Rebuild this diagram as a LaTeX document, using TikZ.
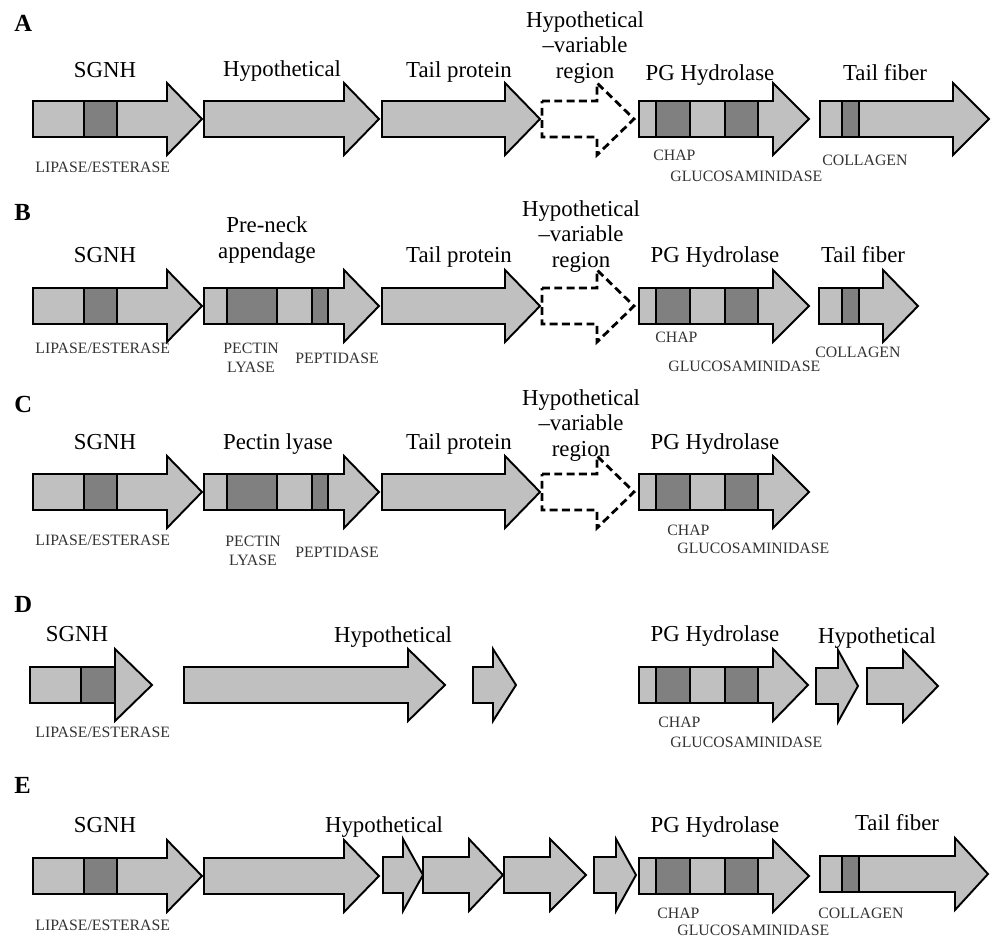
\documentclass[tikz,border=0pt]{standalone}
\usepackage{fontspec}
\setmainfont{Liberation Serif}
\usepackage{tikz}
\definecolor{genelight}{RGB}{192,192,192}
\definecolor{genedark}{RGB}{128,128,128}
\newcommand{\genebh}{18}
\newcommand{\genehh}{36}
% gene arrow: [style]{start}{head start}{tip}{centre y}
\newcommand{\gene}[5][genebox]{%
  \draw[#1] (#2,#5-\genebh) -- (#3,#5-\genebh) -- (#3,#5-\genehh) -- (#4,#5)
    -- (#3,#5+\genehh) -- (#3,#5+\genebh) -- (#2,#5+\genebh) -- cycle;}
% domain box: {from}{to}{centre y}
\newcommand{\domain}[3]{%
  \draw[domainbox] (#1,#3-\genebh) rectangle (#2,#3+\genebh);}

\begin{document}
\begin{tikzpicture}[x=0.02cm, y=-0.02cm,
    genebox/.style={draw=black, fill=genelight, line width=1.1pt, line join=miter},
    dashedgene/.style={draw=black, fill=white, line width=1.6pt, dash pattern=on 4.5pt off 2.5pt},
    domainbox/.style={draw=black, fill=genedark, line width=1.1pt},
    genename/.style={anchor=base, font=\fontsize{13}{14.5}\selectfont, inner sep=0pt, align=center},
    domname/.style={anchor=base west, font=\fontsize{9}{10.5}\selectfont, text=black!80, inner sep=0pt, align=center},
    panel/.style={anchor=base west, font=\fontsize{14}{16}\selectfont\bfseries, inner sep=0pt}]
    \useasboundingbox (0,0) rectangle (991,937);

    % Row A
    \node[panel] (panA) at (14,31) {A};
    \gene{33}{167}{202}{119} \domain{84}{117}{119}
    \gene{204}{344}{379}{119}
    \gene{382}{505}{540}{119}
    \gene[dashedgene]{542}{597}{634}{119}
    \gene{639}{773}{809}{119} \domain{656}{690}{119} \domain{725}{758}{119}
    \gene{820}{953}{989}{119} \domain{842}{859}{119}
    \node[genename] (sgnhA) at (105,77) {SGNH};
    \node[genename] (hypA) at (282,76) {Hypothetical};
    \node[genename] (tailA) at (459,77) {Tail protein};
    \node[genename] (varA) at (585,78) {Hypothetical\\--variable\\region};
    \node[genename] (pgA) at (710,80) {PG Hydrolase};
    \node[genename] (fibA) at (885,80) {Tail fiber};
    \node[domname] (lipA) at (35,172) {LIPASE/ESTERASE};
    \node[domname] (chapA) at (653,160) {CHAP};
    \node[domname] (glcA) at (670,181) {GLUCOSAMINIDASE};
    \node[domname] (colA) at (822,165) {COLLAGEN};

    % Row B
    \node[panel] (panB) at (14,220) {B};
    \gene{33}{167}{202}{306} \domain{84}{117}{306}
    \gene{204}{344}{379}{306} \domain{227}{277}{306} \domain{312}{328}{306}
    \gene{382}{505}{540}{306}
    \gene[dashedgene]{542}{597}{634}{306}
    \gene{639}{773}{809}{306} \domain{656}{690}{306} \domain{725}{758}{306}
    \gene{819}{883}{918}{306} \domain{842}{859}{306}
    \node[genename] (sgnhB) at (105,262) {SGNH};
    \node[genename] (neckB) at (267,258) {Pre-neck\\appendage};
    \node[genename] (tailB) at (459,262) {Tail protein};
    \node[genename] (varB) at (581,267) {Hypothetical\\--variable\\region};
    \node[genename] (pgB) at (715,262) {PG Hydrolase};
    \node[genename] (fibB) at (863,262) {Tail fiber};
    \node[domname] (lipB) at (35,353) {LIPASE/ESTERASE};
    \node[domname] (pecB) at (223,372) {PECTIN\\LYASE};
    \node[domname] (pepB) at (295,363) {PEPTIDASE};
    \node[domname] (chapB) at (655,342) {CHAP};
    \node[domname] (glcB) at (668,371) {GLUCOSAMINIDASE};
    \node[domname] (colB) at (815,357) {COLLAGEN};

    % Row C
    \node[panel] (panC) at (14,412) {C};
    \gene{33}{167}{202}{492} \domain{84}{117}{492}
    \gene{204}{344}{379}{492} \domain{227}{277}{492} \domain{312}{328}{492}
    \gene{382}{505}{540}{492}
    \gene[dashedgene]{542}{597}{634}{492}
    \gene{639}{773}{809}{492} \domain{656}{690}{492} \domain{725}{758}{492}
    \node[genename] (sgnhC) at (105,449) {SGNH};
    \node[genename] (pecC) at (278,449) {Pectin lyase};
    \node[genename] (tailC) at (459,449) {Tail protein};
    \node[genename] (varC) at (581,456) {Hypothetical\\--variable\\region};
    \node[genename] (pgC) at (715,449) {PG Hydrolase};
    \node[domname] (lipC) at (35,545) {LIPASE/ESTERASE};
    \node[domname] (pecdC) at (225,565) {PECTIN\\LYASE};
    \node[domname] (pepC) at (295,557) {PEPTIDASE};
    \node[domname] (chapC) at (667,535) {CHAP};
    \node[domname] (glcC) at (677,553) {GLUCOSAMINIDASE};

    % Row D
    \node[panel] (panD) at (14,612) {D};
    \gene{30}{115}{152}{685} \domain{81}{115}{685}
    \gene{184}{408}{445}{685}
    \gene{473}{493}{516}{685}
    \gene{639}{773}{808}{685} \domain{656}{690}{685} \domain{725}{758}{685}
    \gene{816}{838}{858}{686}
    \gene{867}{903}{938}{686}
    \node[genename] (sgnhD) at (77,641) {SGNH};
    \node[genename] (hypD) at (393,642) {Hypothetical};
    \node[genename] (pgD) at (715,641) {PG Hydrolase};
    \node[genename] (hyp2D) at (877,643) {Hypothetical};
    \node[domname] (lipD) at (35,737) {LIPASE/ESTERASE};
    \node[domname] (chapD) at (658,727) {CHAP};
    \node[domname] (glcD) at (670,747) {GLUCOSAMINIDASE};

    % Row E
    \node[panel] (panE) at (14,793) {E};
    \gene{33}{167}{202}{876} \domain{84}{117}{876}
    \gene{204}{344}{379}{876}
    \gene{383}{403}{423}{875}
    \gene{423}{469}{503}{875}
    \gene{504}{550}{586}{875}
    \gene{594}{616}{636}{875}
    \gene{639}{773}{809}{876} \domain{656}{690}{876} \domain{725}{758}{876}
    \gene{820}{955}{988}{874} \domain{842}{859}{874}
    \node[genename] (sgnhE) at (105,832) {SGNH};
    \node[genename] (hypE) at (384,832) {Hypothetical};
    \node[genename] (pgE) at (715,832) {PG Hydrolase};
    \node[genename] (fibE) at (897,830) {Tail fiber};
    \node[domname] (lipE) at (35,930) {LIPASE/ESTERASE};
    \node[domname] (chapE) at (657,918) {CHAP};
    \node[domname] (glcE) at (677,935) {GLUCOSAMINIDASE};
    \node[domname] (colE) at (818,918) {COLLAGEN};
\end{tikzpicture}
\end{document}
